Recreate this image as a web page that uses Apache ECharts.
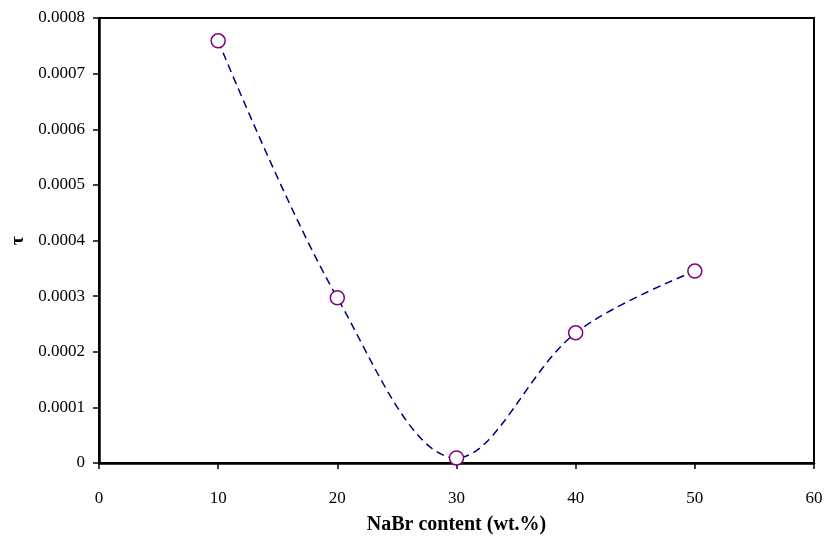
<!DOCTYPE html>
<html><head><meta charset="utf-8">
<script src="https://cdn.jsdelivr.net/npm/echarts@6/dist/echarts.min.js"></script>
<style>html,body{margin:0;padding:0;background:#fff}#c{width:824px;height:536px}</style>
</head><body><div id="c"></div>
<script>
const nabrContent = [10, 20, 30, 40, 50];
const tauValues = [0.000759, 0.000297, 0.000009, 0.000234, 0.000345];
const xTicks = [0, 10, 20, 30, 40, 50, 60];
const yTicks = [0, 0.0001, 0.0002, 0.0003, 0.0004, 0.0005, 0.0006, 0.0007, 0.0008];

const chart = echarts.init(document.getElementById('c'));
const serif = '"Liberation Serif", "DejaVu Serif", serif';
chart.setOption({
  animation: false,
  grid: {left: 99, top: 18, right: 10, bottom: 73, show: true, borderColor: '#000', borderWidth: 2, backgroundColor: '#fff', outerBoundsMode: 'none', containLabel: false},
  xAxis: {
    type: 'value', min: xTicks[0], max: xTicks[xTicks.length-1], interval: 10,
    name: 'NaBr content (wt.%)', nameLocation: 'middle', nameGap: 52,
    nameTextStyle: {fontFamily: serif, fontWeight: 'bold', fontSize: 20, color: '#000'},
    axisLine: {lineStyle: {color: '#000', width: 2.5}},
    axisTick: {show: true, length: 6, lineStyle: {color: '#000', width: 1.5}},
    axisLabel: {fontFamily: serif, fontSize: 17, color: '#000', margin: 27},
    splitLine: {show: false}
  },
  yAxis: {
    type: 'value', min: yTicks[0], max: yTicks[yTicks.length-1], interval: 0.0001,
    name: 'τ', nameLocation: 'middle', nameGap: 67, nameRotate: 90,
    nameTextStyle: {fontFamily: serif, fontWeight: 'bold', fontSize: 19, color: '#000'},
    axisLine: {show: true, lineStyle: {color: '#000', width: 2.5}},
    axisTick: {show: true, length: 6, lineStyle: {color: '#000', width: 1.5}},
    axisLabel: {fontFamily: serif, fontSize: 17, color: '#000', margin: 14,
      formatter: v => v === 0 ? '0' : v.toFixed(4)},
    splitLine: {show: false}
  },
  series: [{
    type: 'line',
    data: nabrContent.map((x, i) => [x, tauValues[i]]),
    smooth: 0.35,
    symbol: 'circle', symbolSize: 14,
    itemStyle: {color: '#fff', borderColor: '#800080', borderWidth: 1.5},
    lineStyle: {color: '#000080', width: 1.5, type: [8, 5]},
    z: 3
  }]
});
</script></body></html>
